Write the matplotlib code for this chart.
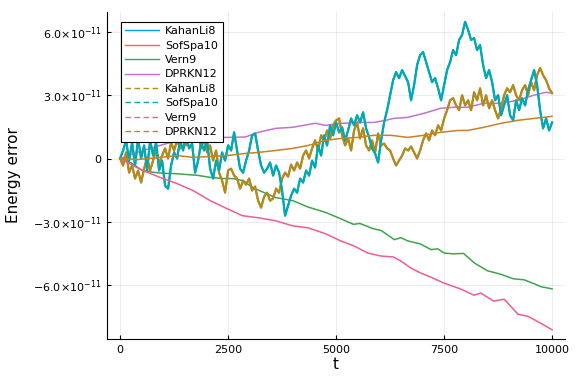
import matplotlib.pyplot as plt
from matplotlib.lines import Line2D
from matplotlib.ticker import FuncFormatter
import numpy as np

plt.rcParams.update({
    'font.family': 'DejaVu Sans',
    'mathtext.default': 'regular',
    'font.size': 8,
    'axes.linewidth': 0.8,
})

SCALE = 1e-11  # all energy errors below are in units of 1e-11

# second run (dashed): KahanLi8 / SofSpa10 are sampled uniformly over t
kahan_b = [
    0, -0.33, 0.29, -0.67, -0.33, -0.95, -0.57, -1.14, -0.48, 0.05,
    -0.57, -0.10, 0.38, -0.24, 0.14, 0.48, 0, 0.76, 0.38, 0.86,
    0.48, 1.33, 0.62, 0.95, 1.57, 0.86, 1.24, 0.48, 0.95, 0.29,
    0.62, -0.10, 0.38, -0.67, -1.05, -1.62, -0.57, -0.48, -0.81, -0.95,
    -1.43, -1.05, -1.24, -0.95, -1.52, -1.33, -2.0, -2.33, -1.81, -1.62,
    -2.0, -1.90, -1.43, -1.62, -0.95, -0.67, -0.86, -0.29, -0.57, -0.19,
    -0.48, 0.14, 0.38, 0, 0.48, 0.86, 0.38, 1.10, 0.86, 1.33,
    0.95, 1.57, 1.81, 1.90, 1.10, 0.62, 0.95, 0.38, 1.33, 1.71,
    0.95, 1.43, 0.62, 0.38, 0.86, 0.29, 1.19, 0.62, 0.71, 0.48,
    0.38, 0, -0.33, -0.10, 0.14, 0.48, 0.38, 0.57, 0.29, 0,
    0.38, 0.86, 1.19, 0.86, 1.33, 1.10, 1.57, 1.33, 1.90, 2.29,
    2.76, 2.86, 2.52, 2.29, 3.0, 2.52, 2.76, 2.29, 3.14, 2.76,
    3.33, 2.52, 3.0, 2.38, 2.76, 2.29, 1.90, 2.38, 3.0, 3.33,
    3.14, 3.48, 3.0, 2.76, 3.24, 3.48, 3.0, 3.62, 3.24, 3.95,
    4.29, 3.95, 3.71, 3.33, 3.10,
]
sofspa_b = [
    0, 0.38, 0.86, -0.10, 0.76, -0.33, 0.95, 0, 0.62, -0.57,
    0.86, 0.14, 0.76, -0.57, -0.10, -1.29, -1.43, -0.33, 0.29, 0,
    0.86, 0.38, 1.10, 0.48, 0.71, -0.67, -0.10, 0.76, 0.38, 0.86,
    -0.48, -0.95, -0.10, -0.57, 0.29, -0.10, 0.62, 0.38, 1.24, 0.38,
    -0.48, -0.67, -0.10, 0.38, 1.10, 1.19, 0.38, -0.33, -0.67, -0.48,
    -0.19, -0.81, -0.33, -0.67, -1.52, -2.71, -2.24, -1.76, -1.43, -1.62,
    -0.95, -1.14, -0.57, -0.81, -0.10, -0.43, 0.62, 0.14, 1.10, 0.62,
    1.57, 1.10, 1.71, 1.24, 1.48, 0.86, 1.33, 1.90, 1.57, 2.05,
    1.71, 2.19, 1.43, 1.0, 0.48, 0.24, -0.19, 0.86, 1.71, 2.29,
    3.0, 3.71, 4.10, 3.81, 4.19, 3.90, 3.62, 2.76, 3.48, 4.43,
    4.90, 5.05, 4.57, 4.10, 3.62, 3.81, 3.33, 2.76, 3.48, 4.19,
    4.57, 5.14, 4.90, 5.62, 5.86, 6.48, 6.10, 5.62, 5.71, 5.14,
    5.38, 4.43, 3.81, 4.19, 3.62, 2.76, 3.0, 2.05, 2.52, 3.0,
    2.05, 1.81, 2.76, 2.29, 2.86, 2.52, 3.24, 3.71, 4.19, 3.48,
    2.29, 1.43, 1.90, 1.33, 1.71,
]
t_noisy = np.linspace(0, 10000, len(kahan_b))

t_vern_a = [0, 250, 500, 750, 1000, 1300, 1800, 2100, 2400, 2600,
            2850, 3050, 3200, 3600, 4000, 4350, 4750, 5100, 5400, 5550,
            5850, 6050, 6350, 6500, 6650, 6950, 7200, 7350, 7500, 7700,
            7950, 8200, 8500, 8800, 9100, 9350, 9600, 9750, 10000]
vern_a = [0, -0.2, -0.55, -0.65, -0.7, -0.72, -0.8, -0.9, -0.95, -0.95,
          -1.05, -1.35, -1.5, -1.85, -2.0, -2.3, -2.55, -2.85, -3.12, -3.08,
          -3.32, -3.42, -3.85, -3.75, -3.9, -4.05, -4.32, -4.28, -4.48, -4.52,
          -4.5, -4.95, -5.32, -5.48, -5.7, -5.75, -5.95, -6.08, -6.18]

t_vern_b = [0, 390, 530, 930, 1320, 1690, 2090, 2480, 2830, 3200,
            3600, 3990, 4360, 4760, 5100, 5410, 5730, 6030, 6330, 6500,
            6730, 6960, 7190, 7490, 7890, 8190, 8350, 8650, 8890, 9210,
            9440, 9740, 10000]
vern_b = [0, -0.43, -0.57, -0.90, -1.19, -1.52, -2.0, -2.38, -2.71, -2.81,
          -2.95, -3.19, -3.29, -3.57, -3.90, -4.14, -4.48, -4.62, -4.67, -4.86,
          -5.19, -5.43, -5.62, -5.90, -6.19, -6.48, -6.38, -6.76, -6.67, -7.38,
          -7.48, -7.81, -8.12]

t_dprkn_a = [0, 400, 700, 930, 1320, 1700, 2480, 2900, 3200, 3600,
             4000, 4520, 4760, 5150, 5570, 5870, 6150, 6330, 6660, 7030,
             7420, 7730, 8050, 8420, 8820, 9210, 9580, 9860, 10000]
dprkn_a = [0, 0.29, 0.48, 0.62, 0.86, 1.0, 1.0, 1.02, 1.24, 1.43,
           1.48, 1.67, 1.57, 1.67, 1.71, 1.71, 1.81, 1.90, 1.95, 2.14,
           2.38, 2.43, 2.43, 2.62, 2.62, 2.76, 3.0, 3.14, 3.10]

t_dprkn_b = [0, 400, 930, 1320, 1700, 2480, 2900, 3200, 3600, 4000,
             4360, 4760, 5100, 5500, 5870, 6270, 6660, 7030, 7420, 7820,
             8050, 8420, 8820, 9210, 9580, 10000]
dprkn_b = [0, -0.05, 0.05, 0.14, 0.05, 0.14, 0.24, 0.29, 0.38, 0.48,
           0.62, 0.86, 0.95, 1.0, 1.10, 1.10, 1.0, 1.10, 1.24, 1.33,
           1.33, 1.48, 1.67, 1.81, 1.90, 2.0]

labels = ['KahanLi8', 'SofSpa10', 'Vern9', 'DPRKN12']
colors_a = ['#009afa', '#e36f47', '#3ea44e', '#c371d2']
colors_b = ['#ac8e18', '#00aaae', '#ed5e93', '#c68225']

fig = plt.figure(figsize=(5.76, 3.84), dpi=100)
ax = fig.add_axes([0.186, 0.117, 0.795, 0.852])

s = np.array
# first run (solid); the noisy solid curves sit underneath the dashed ones
series_a = [(t_noisy, sofspa_b), (t_noisy, kahan_b),
            (t_vern_a, vern_a), (t_dprkn_a, dprkn_a)]
series_b = [(t_noisy, kahan_b), (t_noisy, sofspa_b),
            (t_vern_b, vern_b), (t_dprkn_b, dprkn_b)]

for (t, v), c in zip(series_a, colors_a):
    lw = 1.5 if t is t_noisy else 1.1
    ax.plot(t, s(v) * SCALE, color=c, lw=lw)
for (t, v), c in zip(series_b, colors_b):
    lw = 1.5 if t is t_noisy else 1.1
    ax.plot(t, s(v) * SCALE, color=c, lw=lw)

handles = [Line2D([], [], color=c, lw=1.0) for c in colors_a]
handles += [Line2D([], [], color=c, lw=1.0, ls=(0, (4, 2.5))) for c in colors_b]
leg = ax.legend(handles, labels + labels, loc='upper left',
                bbox_to_anchor=(0.03, 0.97), fontsize=8, fancybox=False,
                framealpha=1, edgecolor='black', handlelength=3.0,
                labelspacing=0.4, borderpad=0.4, handletextpad=0.6,
                borderaxespad=0)
leg.get_frame().set_linewidth(0.8)

ax.set_xlim(-300, 10300)
ax.set_ylim(-8.56e-11, 6.95e-11)
ax.set_xticks([0, 2500, 5000, 7500, 10000])
ax.set_yticks([-6e-11, -3e-11, 0, 3e-11, 6e-11])


def sci(v, _):
    if abs(v) < 1e-20:
        return '0'
    m = v / SCALE
    sign = '\u2212' if m < 0 else ''
    return sign + '%.1f\u00d710$^{\u221211}$' % abs(m)


ax.yaxis.set_major_formatter(FuncFormatter(sci))
ax.tick_params(direction='in', length=3, width=0.8, labelsize=8, pad=4)
ax.grid(True, color='black', alpha=0.1, lw=0.5)
ax.spines['top'].set_visible(False)
ax.spines['right'].set_visible(False)

ax.set_xlabel('t', fontsize=11, labelpad=2)
ax.set_ylabel('Energy error', fontsize=11, labelpad=9)

fig.savefig('out.png', dpi=100, facecolor='white')
